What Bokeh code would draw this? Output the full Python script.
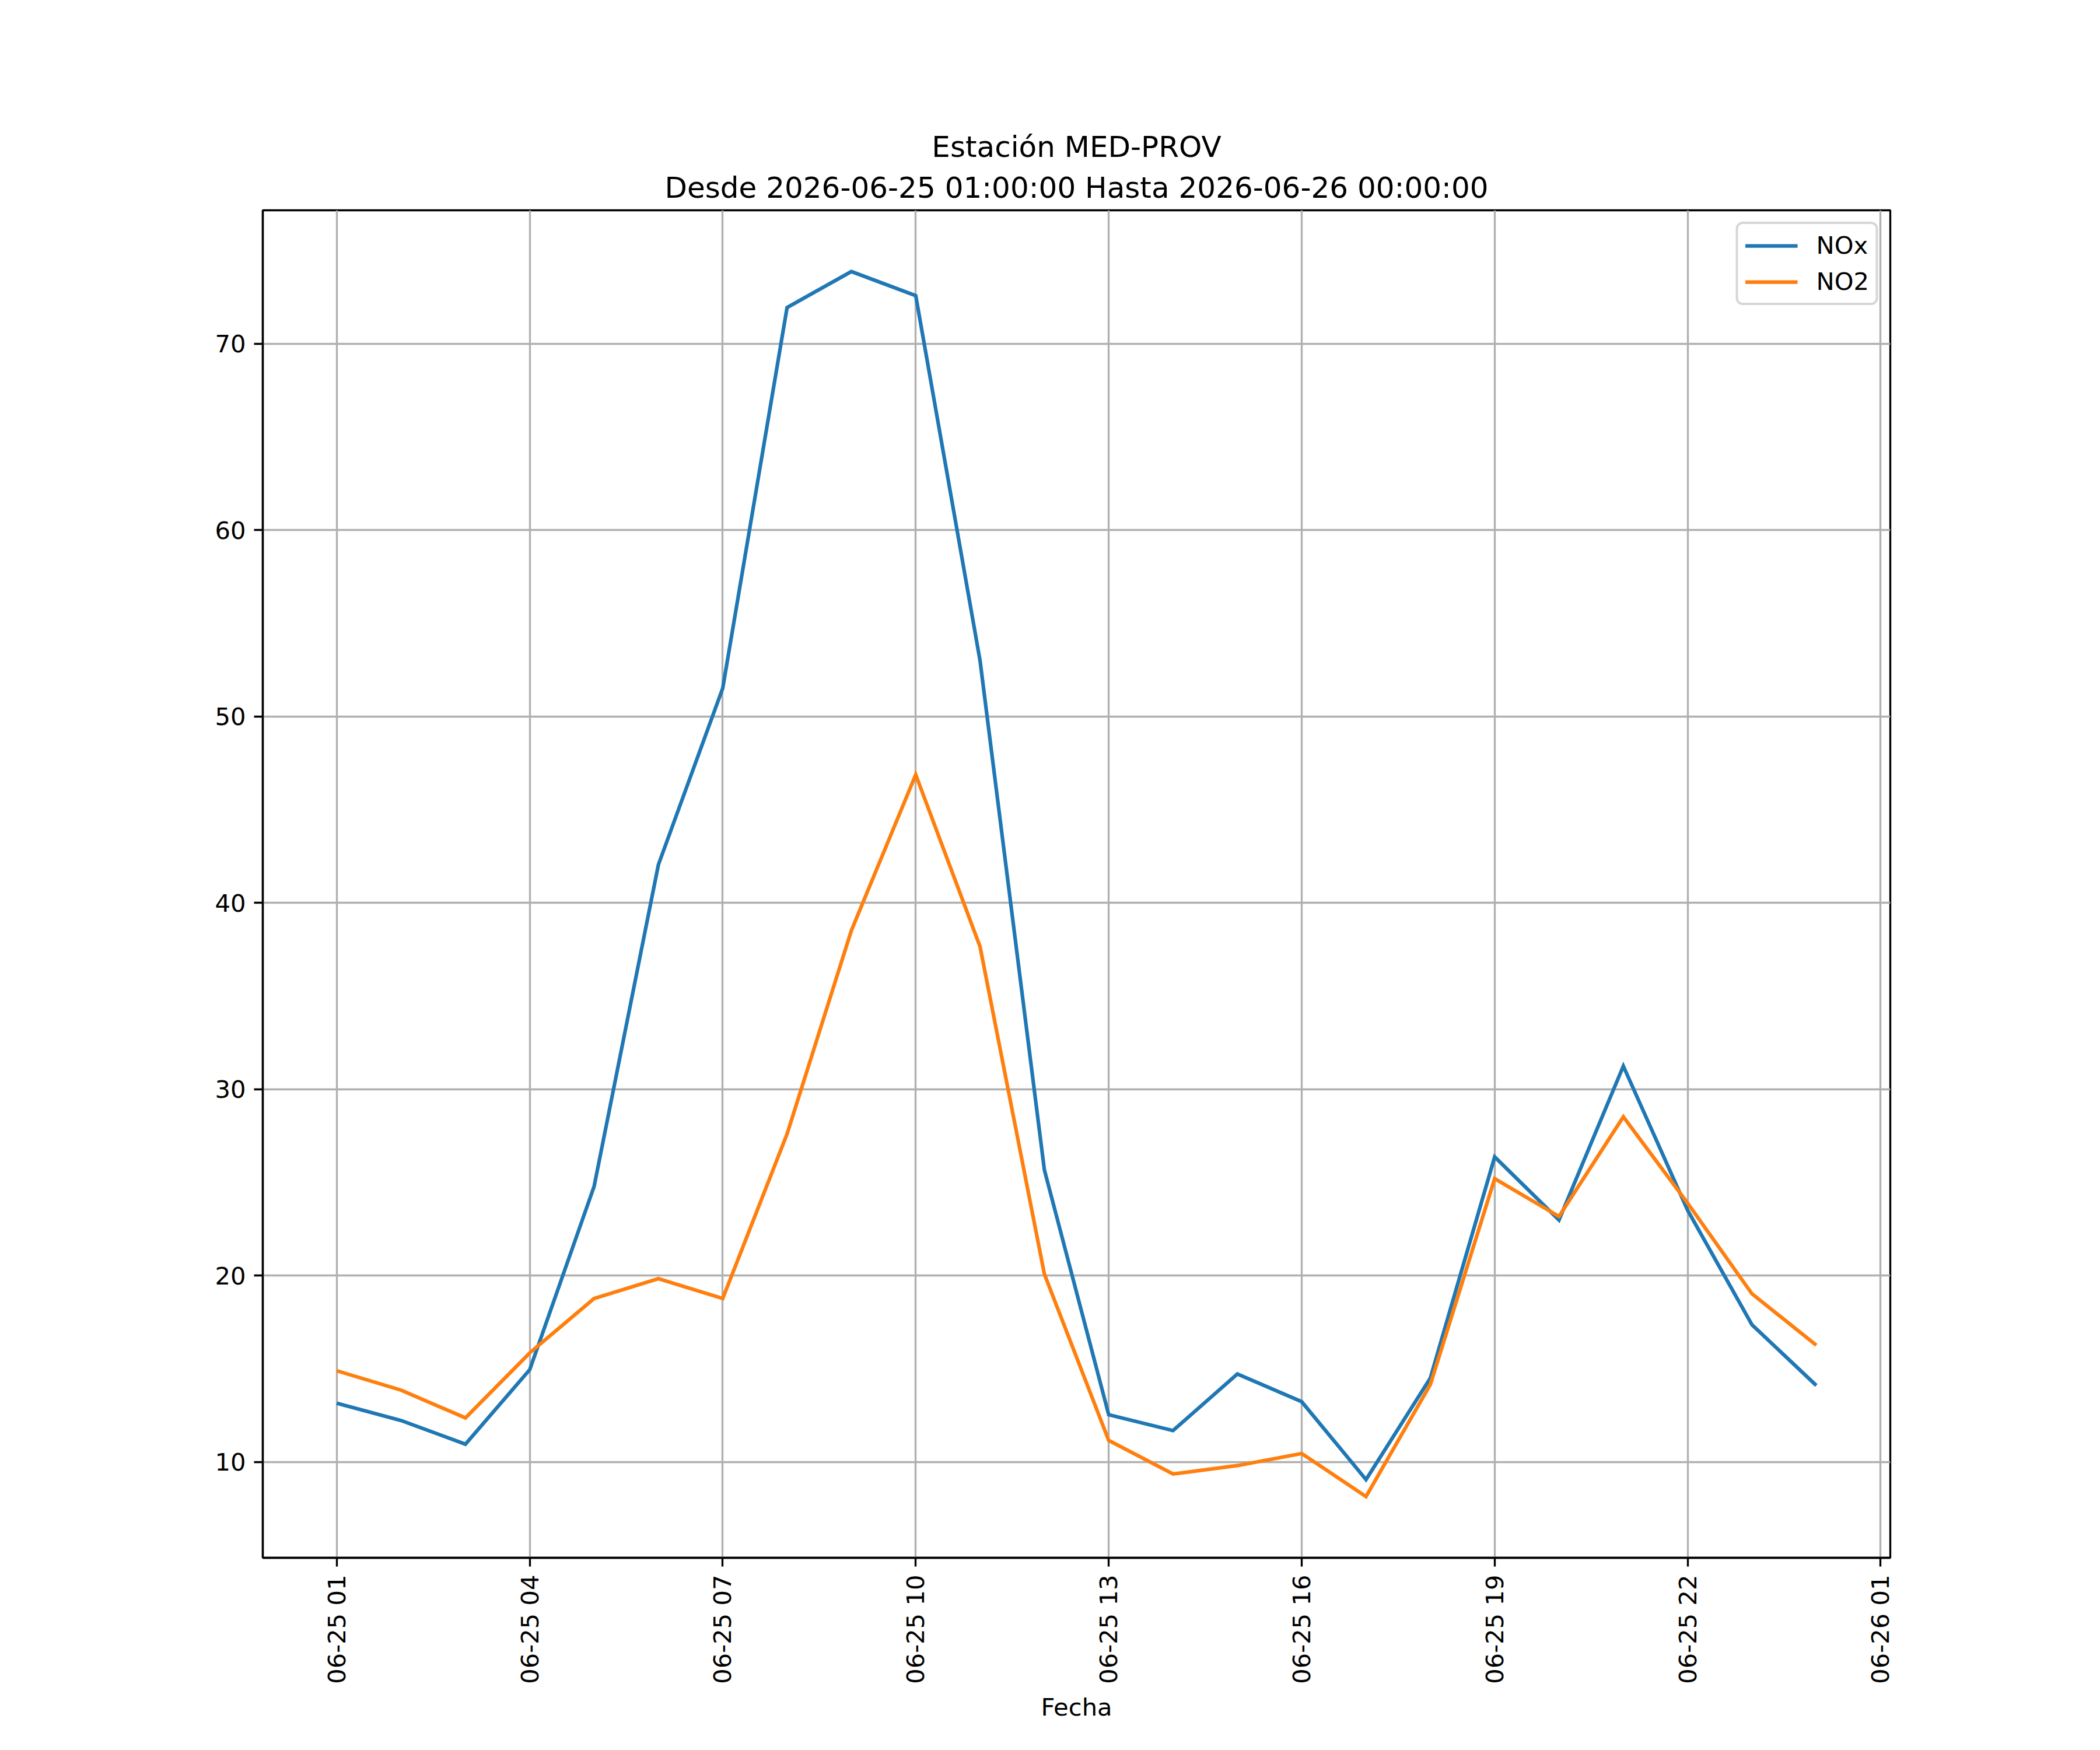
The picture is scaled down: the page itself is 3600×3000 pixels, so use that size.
import pandas as pd
from math import pi
from bokeh.plotting import figure
from bokeh.models import Range1d, FixedTicker, DatetimeTickFormatter, Title, Legend, LegendItem
from bokeh.embed import file_html
from bokeh.resources import INLINE

# ---- data ----
hours = pd.date_range("2026-06-25 01:00", "2026-06-26 00:00", freq="h")
nox = [13.15, 12.22, 10.95, 14.95, 24.78, 42.05, 51.52, 71.95, 73.88, 72.59, 53.0, 25.67,
       12.53, 11.68, 14.72, 13.23, 9.05, 14.5, 26.37, 22.98, 31.24, 23.5, 17.36, 14.1]
no2 = [14.89, 13.85, 12.36, 15.85, 18.77, 19.83, 18.77, 27.6, 38.52, 46.88, 37.65, 20.08,
       11.15, 9.35, 9.8, 10.45, 8.14, 14.15, 25.2, 23.17, 28.52, 23.88, 19.02, 16.26]
series_names = ["NOx", "NO2"]
x_ticks = pd.date_range("2026-06-25 01:00", "2026-06-26 01:00", freq="3h")
y_ticks = [10, 20, 30, 40, 50, 60, 70]
title_line1 = "Estación MED-PROV"
title_line2 = "Desde 2026-06-25 01:00:00 Hasta 2026-06-26 00:00:00"
x_label = "Fecha"

FONT = "DejaVu Sans"
FS = "41.67px"
LW = 3.33

# matplotlib-like 5% margins computed from data
span = hours[-1] - hours[0]
x_start = hours[0] - 0.05 * span
x_end = hours[-1] + 0.05 * span
all_vals = nox + no2
ymin, ymax = min(all_vals), max(all_vals)
yr = ymax - ymin
y_start = ymin - 0.05 * yr
y_end = ymax + 0.05 * yr

p = figure(width=3592, height=2992, x_axis_type="datetime",
           x_range=Range1d(x_start, x_end), y_range=Range1d(y_start, y_end),
           output_backend="svg", toolbar_location=None,
           min_border_left=450, min_border_right=352,
           min_border_top=360, min_border_bottom=322)
p.title.visible = False
p.background_fill_color = "white"
p.border_fill_color = "white"
p.outline_line_color = "black"
p.outline_line_width = LW
p.outline_line_alpha = 1.0

r1 = p.line(hours, nox, line_color="#1f77b4", line_width=6.25, line_join="miter")
r2 = p.line(hours, no2, line_color="#ff7f0e", line_width=6.25, line_join="miter")

# axes
p.xaxis.ticker = FixedTicker(ticks=[int(t.value // 10**6) for t in x_ticks])
fmt = "%m-%d %H"
p.xaxis.formatter = DatetimeTickFormatter(microseconds=fmt, milliseconds=fmt, seconds=fmt,
                                          minsec=fmt, minutes=fmt, hourmin=fmt, hours=fmt,
                                          days=fmt, months=fmt, years=fmt)
p.xaxis.major_label_orientation = pi / 2
p.yaxis.ticker = FixedTicker(ticks=y_ticks)
for ax in p.axis:
    ax.major_label_text_font = FONT
    ax.major_label_text_font_size = FS
    ax.major_label_text_color = "black"
    ax.major_tick_line_width = LW
    ax.major_tick_line_color = "black"
    ax.major_tick_out = 15
    ax.major_tick_in = 0
    ax.minor_tick_line_color = None
    ax.axis_line_width = LW
    ax.axis_line_color = "black"
    ax.major_label_standoff = 14
p.xaxis.axis_label = x_label
p.xaxis.axis_label_text_font = FONT
p.xaxis.axis_label_text_font_size = FS
p.xaxis.axis_label_text_font_style = "normal"
p.xaxis.axis_label_text_color = "black"
p.xaxis.axis_label_standoff = 12

for g in p.grid:
    g.grid_line_color = "#b0b0b0"
    g.grid_line_width = LW

# two-line title: first added sits closest to the frame
t2 = Title(text=title_line2, align="center", text_font=FONT, text_font_size="50px",
           text_font_style="normal", text_color="black", standoff=20)
t1 = Title(text=title_line1, align="center", text_font=FONT, text_font_size="50px",
           text_font_style="normal", text_color="black", standoff=0)
p.add_layout(t2, "above")
p.add_layout(t1, "above")

legend = Legend(items=[LegendItem(label=series_names[0], renderers=[r1]),
                       LegendItem(label=series_names[1], renderers=[r2])],
                location="top_right", margin=20, padding=12, spacing=13,
                glyph_width=90, glyph_height=44, label_height=44, label_standoff=32,
                label_text_font=FONT, label_text_font_size=FS, label_text_color="black",
                border_line_color="#cccccc", border_line_width=4, border_line_alpha=0.8,
                background_fill_color="white", background_fill_alpha=0.8)
try:
    legend.border_radius = 12
except Exception:
    pass
p.add_layout(legend)

open("out.html", "w").write(file_html(p, INLINE))
